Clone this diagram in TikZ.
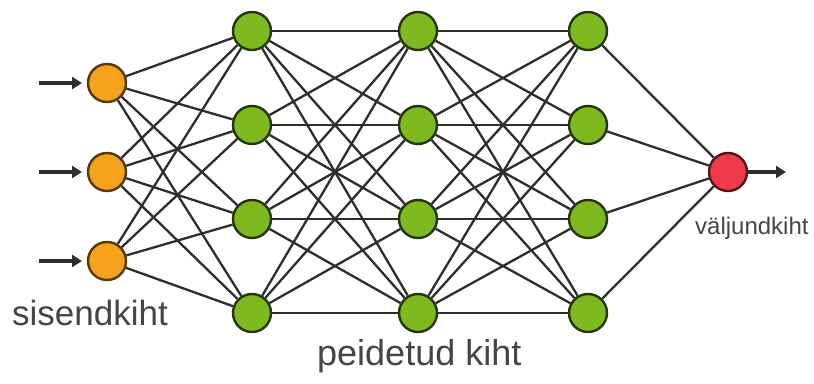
\documentclass[tikz,border=0pt]{standalone}
\usepackage{fontspec}
\setmainfont{Liberation Sans}
\usetikzlibrary{arrows.meta}
\definecolor{orangefill}{HTML}{F7A21B}
\definecolor{greenfill}{HTML}{7DB91F}
\definecolor{redfill}{HTML}{EE3A4B}
\definecolor{edgecol}{HTML}{2E2E2E}
\definecolor{labelcol}{HTML}{454545}
\tikzset{
  neuron/.style={circle, minimum size=38pt, inner sep=0pt, line width=2.4pt},
  inneuron/.style={neuron, fill=orangefill, draw=orangefill!35!black},
  hidneuron/.style={neuron, fill=greenfill, draw=greenfill!30!black},
  outneuron/.style={neuron, fill=redfill, draw=redfill!35!black},
  conn/.style={draw=edgecol, line width=2.3pt},
  arr/.style={draw=edgecol, line width=3.4pt, -{Triangle[length=10pt,width=12pt]}},
  lbl/.style={text=labelcol, inner sep=0pt}
}
\begin{document}
\begin{tikzpicture}[x=1pt,y=-1pt]
\useasboundingbox[fill=white] (0,0) rectangle (814,383);
% nodes
\node[inneuron] (i1) at (107,83) {};
\node[inneuron] (i2) at (107,172) {};
\node[inneuron] (i3) at (107,261) {};
\foreach \c/\x in {a/252,b/418,c/588}{
  \node[hidneuron] (\c1) at (\x,31) {};
  \node[hidneuron] (\c2) at (\x,125) {};
  \node[hidneuron] (\c3) at (\x,219) {};
  \node[hidneuron] (\c4) at (\x,313) {};
}
\node[outneuron] (o) at (728,172) {};
% connections
\foreach \i in {1,2,3}{\foreach \j in {1,2,3,4}{\draw[conn] (i\i) -- (a\j);}}
\foreach \i in {1,2,3,4}{\foreach \j in {1,2,3,4}{\draw[conn] (a\i) -- (b\j); \draw[conn] (b\i) -- (c\j);}}
\foreach \i in {1,2,3,4}{\draw[conn] (c\i) -- (o);}
% arrows
\coordinate (s1) at (39,83);
\coordinate (s2) at (39,172);
\coordinate (s3) at (39,261);
\coordinate (e1) at (82,83);
\coordinate (e2) at (82,172);
\coordinate (e3) at (82,261);
\foreach \k in {1,2,3}{\draw[arr] (s\k) -- (e\k);}
\coordinate (oe) at (786,172);
\draw[arr] (o) -- (oe);
% labels
\node[lbl, anchor=base west, font=\fontsize{35}{40}\selectfont] (t1) at (12,325) {sisendkiht};
\node[lbl, anchor=base west, font=\fontsize{36}{40}\selectfont] (t2) at (317,365) {peidetud kiht};
\node[lbl, anchor=base west, font=\fontsize{24}{28}\selectfont] (t3) at (695,234) {väljundkiht};
\end{tikzpicture}
\end{document}
